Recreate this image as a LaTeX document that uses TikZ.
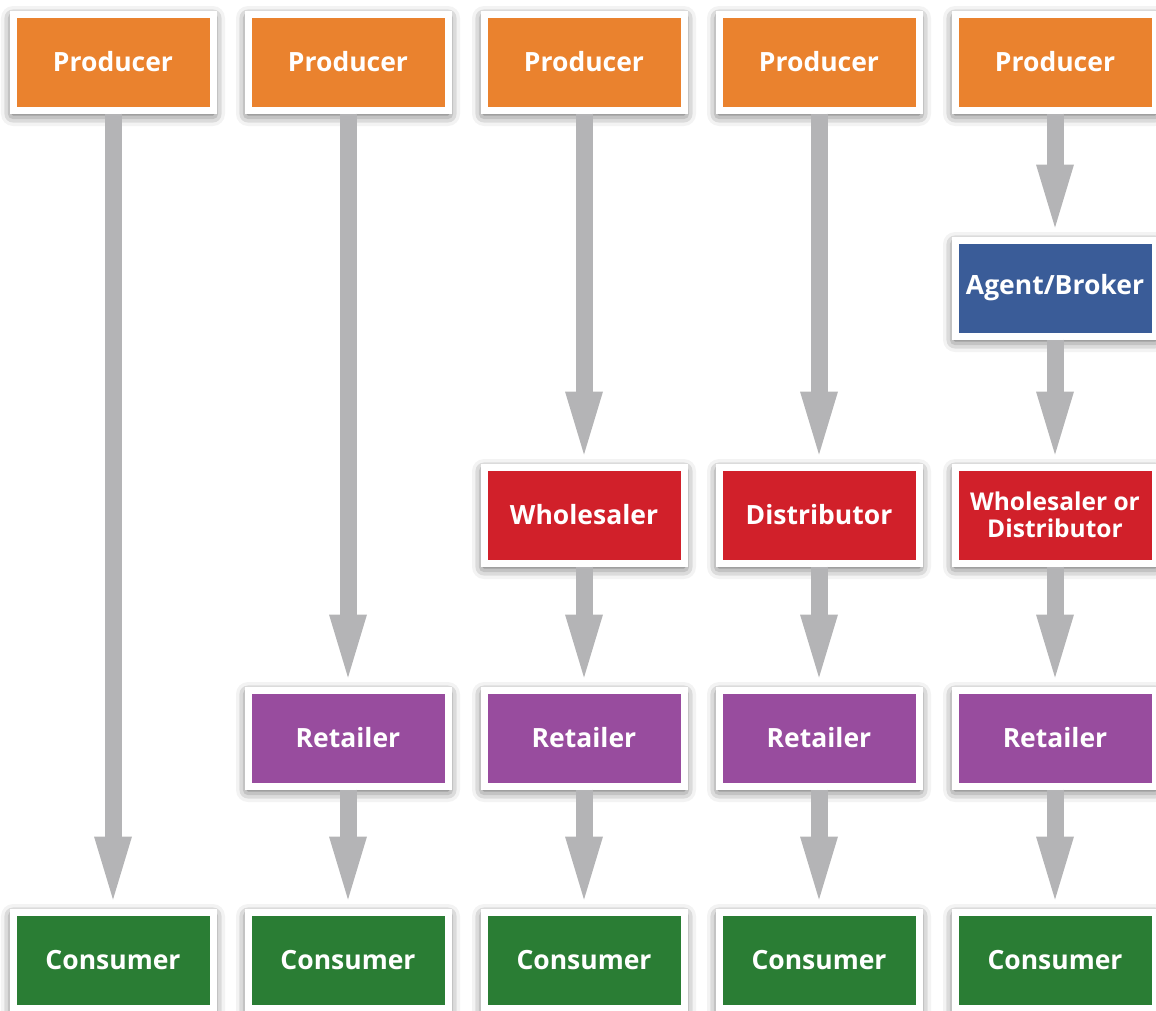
\documentclass[tikz,border=0pt]{standalone}
\usepackage{fontspec}
\setmainfont{Open Sans}
\usetikzlibrary{arrows.meta,shadows.blur}
\definecolor{prodorange}{RGB}{234,130,46}
\definecolor{agentblue}{RGB}{58,92,152}
\definecolor{midred}{RGB}{209,32,42}
\definecolor{retpurple}{RGB}{152,76,158}
\definecolor{consgreen}{RGB}{42,125,52}
\definecolor{flowgray}{RGB}{180,180,182}

\begin{document}
\begin{tikzpicture}[x=1pt,y=-1pt,
	box/.style={draw=white,line width=7pt,minimum width=200pt,minimum height=96pt,inner sep=0pt,
		text=white,align=center,font=\fontsize{26.5}{29}\selectfont\bfseries,
		blur shadow={shadow xshift=0pt,shadow yshift=-4pt,shadow blur radius=12pt,shadow opacity=75}},
	flow/.style={draw=flowgray,line width=17pt,-{Triangle[width=38pt,length=63pt,line width=0pt]},shorten >=9pt}]
	\useasboundingbox (0,0) rectangle (1156,1010);
	\node[box,fill=prodorange] (p1) at (113,62) {Producer};
	\node[box,fill=prodorange] (p2) at (348,62) {Producer};
	\node[box,fill=prodorange] (p3) at (584,62) {Producer};
	\node[box,fill=prodorange] (p4) at (819,62) {Producer};
	\node[box,fill=prodorange] (p5) at (1055,62) {Producer};
	\node[box,fill=agentblue] (a5) at (1055,288) {Agent/Broker};
	\node[box,fill=midred] (w3) at (584,515) {Wholesaler};
	\node[box,fill=midred] (d4) at (819,515) {Distributor};
	\node[box,fill=midred,font=\fontsize{24.5}{27}\selectfont\bfseries] (wd5) at (1055,515) {Wholesaler or\\Distributor};
	\node[box,fill=retpurple] (r2) at (348,738) {Retailer};
	\node[box,fill=retpurple] (r3) at (584,738) {Retailer};
	\node[box,fill=retpurple] (r4) at (819,738) {Retailer};
	\node[box,fill=retpurple] (r5) at (1055,738) {Retailer};
	\node[box,fill=consgreen] (c1) at (113,960) {Consumer};
	\node[box,fill=consgreen] (c2) at (348,960) {Consumer};
	\node[box,fill=consgreen] (c3) at (584,960) {Consumer};
	\node[box,fill=consgreen] (c4) at (819,960) {Consumer};
	\node[box,fill=consgreen] (c5) at (1055,960) {Consumer};
	\draw[flow] (p1) -- (c1);
	\draw[flow] (p2) -- (r2);
	\draw[flow] (r2) -- (c2);
	\draw[flow] (p3) -- (w3);
	\draw[flow] (w3) -- (r3);
	\draw[flow] (r3) -- (c3);
	\draw[flow] (p4) -- (d4);
	\draw[flow] (d4) -- (r4);
	\draw[flow] (r4) -- (c4);
	\draw[flow] (p5) -- (a5);
	\draw[flow] (a5) -- (wd5);
	\draw[flow] (wd5) -- (r5);
	\draw[flow] (r5) -- (c5);
\end{tikzpicture}
\end{document}
